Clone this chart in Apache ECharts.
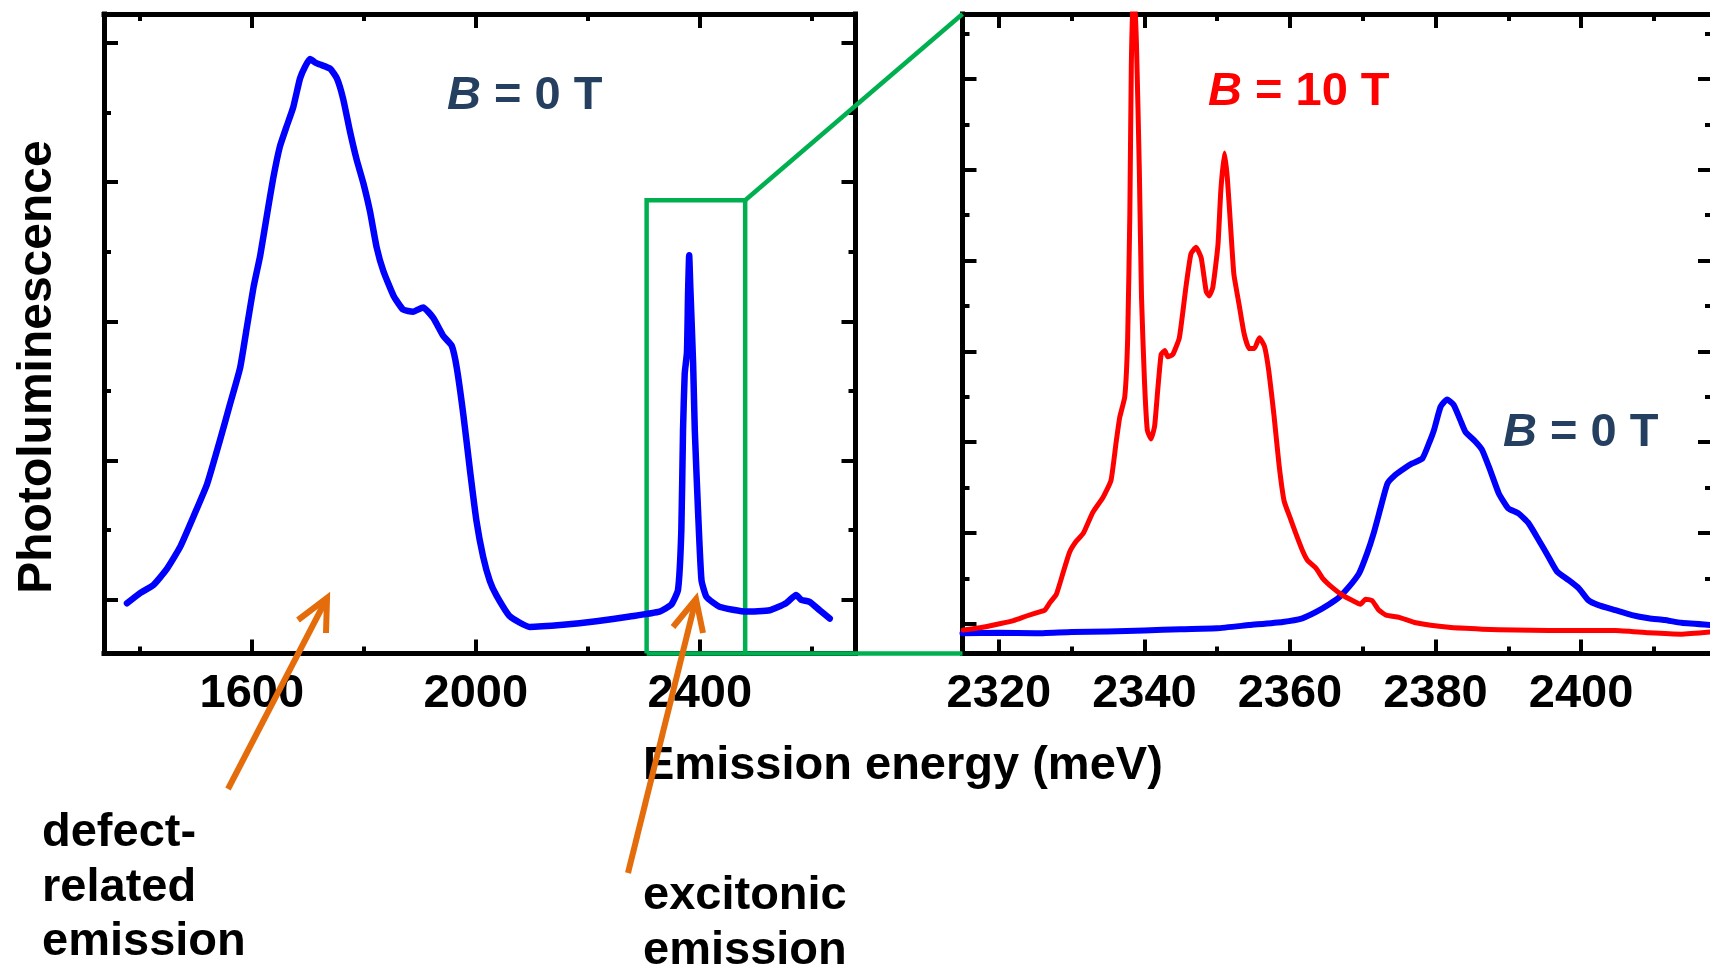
<!DOCTYPE html>
<html><head><meta charset="utf-8">
<script src="https://cdn.jsdelivr.net/npm/echarts@6/dist/echarts.min.js"></script>
<style>html,body{margin:0;padding:0;background:#fff}#c{width:1710px;height:968px}</style>
</head><body><div id="c"></div>
<script>
// ---------- data ----------
// Overview spectrum, B = 0 T (emission energy in meV, PL in tick units)
const overviewEnergy = [1377,1401,1424,1448,1472,1496,1520,1543,1561,1579,1591,1603,1615,1627,1638,1650,1662,1674,1686,1695,1704,1713,1722,1740,1752,1763,1775,1787,1799,1811,1823,1835,1853,1870,1888,1906,1924,1942,1957,1966,1978,1990,2001,2013,2025,2037,2061,2096,2156,2215,2275,2328,2349,2361,2367,2370,2373,2377,2379,2381,2383,2388,2391,2397,2403,2412,2435,2483,2525,2554,2572,2581,2596,2614,2632];
const overviewPL     = [-0.05,0.1,0.21,0.44,0.76,1.2,1.66,2.29,2.81,3.33,3.91,4.49,4.95,5.53,6.05,6.51,6.8,7.08,7.49,7.66,7.77,7.72,7.69,7.63,7.49,7.2,6.74,6.33,5.99,5.58,5.06,4.72,4.37,4.17,4.14,4.2,4.05,3.79,3.65,3.33,2.64,1.83,1.14,0.62,0.27,0.06,-0.24,-0.39,-0.36,-0.31,-0.24,-0.17,-0.07,0.14,1.0,2.44,3.25,3.55,4.4,4.95,4.5,3.4,2.44,1.24,0.28,0.04,-0.1,-0.17,-0.15,-0.05,0.07,0.0,-0.03,-0.15,-0.27];

// Zoomed spectra
const zoomEnergy0T = [2315,2320,2325,2330,2335,2340,2345,2350,2354.4,2359,2361.7,2363.6,2365.4,2366.8,2368.1,2369.5,2370.6,2371.5,2372.5,2373.4,2374.5,2375.7,2376.8,2378.2,2379.1,2379.8,2380.7,2381.6,2382.5,2383.4,2384.1,2385.5,2386.4,2387.5,2388.7,2390,2391.4,2392.8,2394.2,2395.5,2396.7,2398.3,2399.7,2401,2402.4,2404.7,2407,2409.3,2411.5,2413.8,2418];
const zoomPL0T     = [-0.21,-0.2,-0.21,-0.18,-0.17,-0.15,-0.12,-0.1,-0.03,0.04,0.12,0.26,0.43,0.59,0.81,1.11,1.55,1.99,2.58,3.09,3.28,3.42,3.53,3.64,3.97,4.27,4.78,4.94,4.82,4.49,4.23,4.01,3.83,3.39,2.87,2.54,2.43,2.21,1.84,1.48,1.15,0.96,0.78,0.52,0.41,0.3,0.19,0.12,0.08,0.02,-0.03];
const zoomEnergy10T = [2315.1,2317.4,2320.1,2322,2323.8,2325.6,2326.3,2327,2327.9,2328.8,2329.7,2330.6,2331.6,2332.9,2334.3,2335.4,2336.1,2336.6,2337.3,2337.7,2338,2338.2,2338.5,2338.9,2339.3,2339.6,2340,2340.4,2340.9,2341.4,2341.8,2342.3,2342.8,2343.2,2343.9,2344.8,2345.7,2346.4,2347.1,2347.8,2348.5,2348.9,2349.4,2350.1,2350.5,2351,2351.4,2351.9,2352.3,2353,2353.7,2354.4,2355.1,2355.8,2356.5,2357.1,2357.8,2358.5,2359.2,2360.1,2360.8,2361.7,2362.4,2363.6,2364.5,2365.8,2367.2,2368.6,2369.7,2370.4,2371.3,2372.2,2373.2,2375,2377.3,2381.8,2386.4,2391,2395.5,2400.1,2404.7,2409.3,2413.8,2418];
const zoomPL10T     = [-0.14,-0.09,0,0.07,0.17,0.26,0.3,0.46,0.65,1.11,1.57,1.81,1.99,2.45,2.78,3.15,3.98,4.54,5.0,6.3,9.07,12.3,14.2,12.8,10.0,7.2,5.37,4.26,4.07,4.35,5.09,5.93,6.02,5.88,5.93,6.3,7.41,8.15,8.29,8.06,7.31,7.22,7.41,8.33,9.54,10.37,9.81,8.61,7.69,7.04,6.39,6.06,6.06,6.3,6.11,5.56,4.6,3.5,2.7,2.3,1.99,1.62,1.4,1.22,1.0,0.8,0.63,0.51,0.43,0.54,0.51,0.3,0.19,0.14,0.02,-0.08,-0.12,-0.14,-0.15,-0.15,-0.15,-0.2,-0.23,-0.18];

// Axes / ticks
const overviewXRange = [1336, 2678];
const overviewYRange = [-0.772, 8.417];
const zoomXRange = [2315, 2418];
const zoomYRange = [-0.656, 13.43];
const overviewXLabels = [1600, 2000, 2400];
const overviewXMinor  = [1400, 1800, 2200, 2600];
const overviewYMajor  = [0, 2, 4, 6, 8];
const overviewYMinor  = [1, 3, 5, 7];
const zoomXLabels = [2320, 2340, 2360, 2380, 2400];
const zoomXMinor  = [2330, 2350, 2370, 2390, 2410];
const zoomYMajor  = [0, 2, 4, 6, 8, 10, 12];
const zoomYMinor  = [1, 3, 5, 7, 9, 11, 13];
// highlighted zoom window in the overview (meV) and its top (PL units)
const zoomWindow = [2305, 2481];
const zoomWindowTop = 5.74;

// ---------- chart ----------
const FAM = '"Liberation Sans", Arial, Helvetica, sans-serif';
const FS = 47;
const chart = echarts.init(document.getElementById('c'), null, {renderer: 'canvas'});

function axisSet(kind, grid, range, major, minor, labels) {
  const posA = kind === 'x' ? 'bottom' : 'left';
  const posB = kind === 'x' ? 'top' : 'right';
  const mk = (pos, vals, len, line, lab) => ({
    type: 'value', gridIndex: grid, min: range[0], max: range[1], position: pos,
    splitLine: {show: false}, silent: true,
    axisLine: {show: line, onZero: false, lineStyle: {color: '#000', width: 5, cap: 'square'}},
    axisTick: {show: true, inside: true, customValues: vals, length: len, lineStyle: {color: '#000', width: 4}},
    axisLabel: lab ? {show: true, customValues: labels, margin: 17, color: '#000',
      formatter: v => String(v),
      fontSize: FS, fontWeight: 'bold', fontFamily: FAM} : {show: false}
  });
  return [mk(posA, major, 14, true, !!labels), mk(posA, minor, 7, false, false),
          mk(posB, major, 14, true, false), mk(posB, minor, 7, false, false)];
}

const zip = (a, b) => a.map((v, i) => [v, b[i]]);

const option = {
  animation: false,
  backgroundColor: '#fff',
  grid: [
    {left: 104, top: 14, width: 751.5, height: 639.5, containLabel: false, outerBoundsMode: 'none'},
    {left: 962.5, top: 14, width: 749.5, height: 639.5, containLabel: false, outerBoundsMode: 'none'}
  ],
  xAxis: [].concat(
    axisSet('x', 0, overviewXRange, overviewXLabels, overviewXMinor, overviewXLabels),
    axisSet('x', 1, zoomXRange, zoomXLabels, zoomXMinor, zoomXLabels)
  ),
  yAxis: [].concat(
    axisSet('y', 0, overviewYRange, overviewYMajor, overviewYMinor, null),
    axisSet('y', 1, zoomYRange, zoomYMajor, zoomYMinor, null)
  ),
  series: [
    {type: 'line', name: 'overview 0T', xAxisIndex: 0, yAxisIndex: 0, data: zip(overviewEnergy, overviewPL),
     showSymbol: false, symbol: 'none', smooth: 0.15, clip: true, z: 3, silent: true,
     lineStyle: {color: '#0000FF', width: 6.5, join: 'round', cap: 'round'}},
    {type: 'line', name: 'zoom 0T', xAxisIndex: 4, yAxisIndex: 4, data: zip(zoomEnergy0T, zoomPL0T),
     showSymbol: false, symbol: 'none', smooth: 0.15, clip: true, z: 3, silent: true,
     lineStyle: {color: '#0000FF', width: 6, join: 'round', cap: 'round'}},
    {type: 'line', name: 'zoom 10T', xAxisIndex: 4, yAxisIndex: 4, data: zip(zoomEnergy10T, zoomPL10T),
     showSymbol: false, symbol: 'none', smooth: 0.15, clip: true, z: 4, silent: true,
     lineStyle: {color: '#FF0000', width: 5, join: 'round', cap: 'round'}}
  ]
};
chart.setOption(option);

// ---------- annotations ----------
const P0 = v => chart.convertToPixel({gridIndex: 0}, v);
const P1 = v => chart.convertToPixel({gridIndex: 1}, v);
const GREEN = '#00B050', ORANGE = '#E46C0A', SLATE = '#243F60';
const bl = P0([zoomWindow[0], overviewYRange[0]]);
const tl = P0([zoomWindow[0], zoomWindowTop]);
const tr = P0([zoomWindow[1], zoomWindowTop]);
const br = P0([zoomWindow[1], overviewYRange[0]]);
const rTL = P1([zoomXRange[0], zoomYRange[1]]);
const rBL = P1([zoomXRange[0], zoomYRange[0]]);

const gLine = (pts) => ({type: 'polyline', z: 2, silent: true, shape: {points: pts},
  style: {stroke: GREEN, lineWidth: 4.5, fill: null, lineJoin: 'miter'}});
const oLine = (pts) => ({type: 'polyline', z: 20, silent: true, shape: {points: pts},
  style: {stroke: ORANGE, lineWidth: 6, fill: null, lineJoin: 'miter', lineCap: 'butt'}});
const txt = (s, x, y, color, extra) => Object.assign({type: 'text', z: 15, silent: true, x: x, y: y,
  style: Object.assign({text: s, fill: color || '#000', font: 'bold ' + FS + 'px ' + FAM,
    textAlign: 'left', textVerticalAlign: 'middle', align: 'left', verticalAlign: 'middle'}, extra || {})});
const bText = (s, x, y, color) => txt('{i|B}' + s, x, y, color, {
  rich: {i: {font: 'italic bold ' + FS + 'px ' + FAM, fill: color, fontStyle: 'italic', fontWeight: 'bold', fontSize: FS, fontFamily: FAM}}});

chart.setOption({
  graphic: [
    gLine([bl, tl, tr, br]),
    gLine([bl, rBL]),
    gLine([tr, rTL]),
    oLine([[228, 789], [327, 598]]),
    oLine([[298, 620], [327, 598], [326, 633]]),
    oLine([[628, 873], [696, 599]]),
    oLine([[673, 627], [696, 599], [703, 633]]),
    bText(' = 0 T', 447, 96, SLATE),
    bText(' = 10 T', 1208, 92, '#FF0000'),
    bText(' = 0 T', 1503, 433, SLATE),
    txt('Emission energy (meV)', 643, 766),
    txt('defect-', 42, 833),
    txt('related', 42, 888),
    txt('emission', 42, 942),
    txt('excitonic', 643, 896),
    txt('emission', 643, 951),
    {type: 'text', z: 15, silent: true, x: 38, y: 367, rotation: Math.PI / 2,
     style: {text: 'Photoluminescence', fill: '#000', font: 'bold 48px ' + FAM,
       textAlign: 'center', textVerticalAlign: 'middle', align: 'center', verticalAlign: 'middle'}}
  ]
});
</script></body></html>
